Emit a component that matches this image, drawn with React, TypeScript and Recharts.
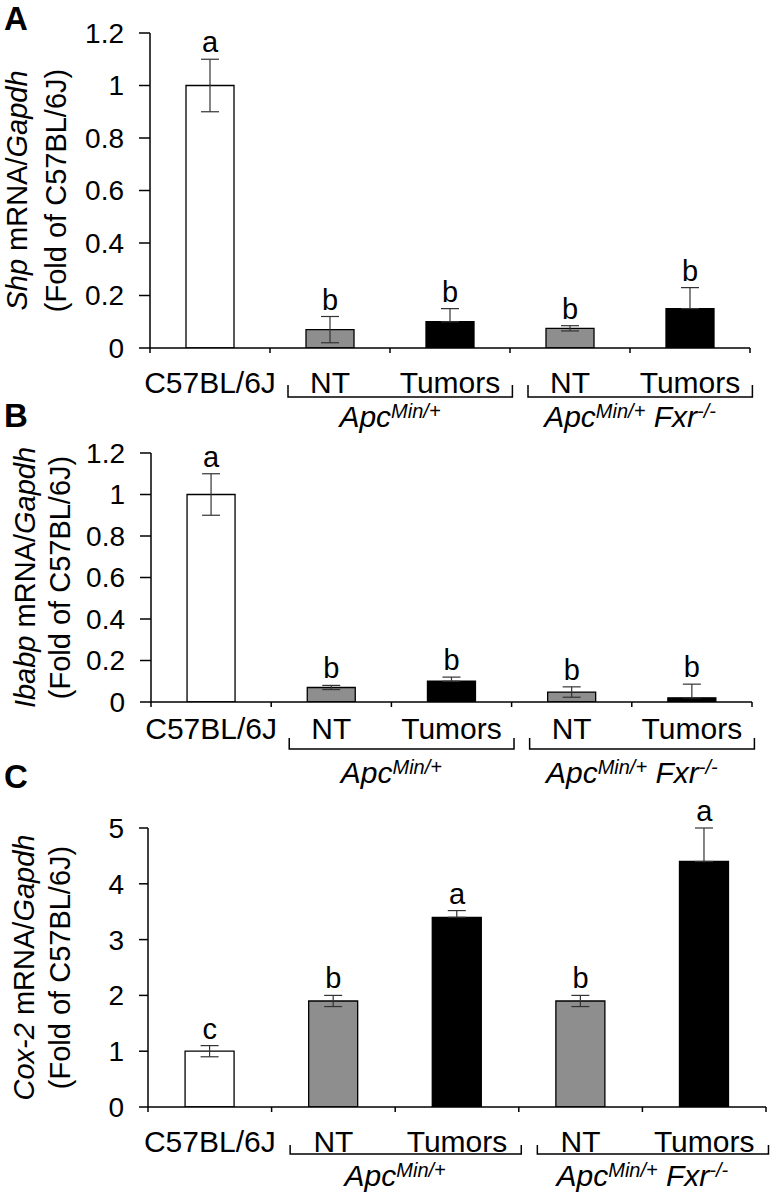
import React from "react";
import { ComposedChart, Bar, Line, XAxis, YAxis, ErrorBar, Cell, LabelList } from "recharts";

const FONT = "'Liberation Sans', Arial, Helvetica, sans-serif";

// Categories (unique ids) and their printed labels
const categoryIds = ["C57BL/6J", "ApcMin NT", "ApcMin Tumors", "ApcMinFxr NT", "ApcMinFxr Tumors"];
const categoryLabels = ["C57BL/6J", "NT", "Tumors", "NT", "Tumors"];
const barFills = ["#ffffff", "#8e8e8e", "#000000", "#8e8e8e", "#000000"];
const groups = [
  { first: 1, last: 2, fxr: false },
  { first: 3, last: 4, fxr: true },
];

// Panel A: Shp
const shpMean = [1.0, 0.07, 0.1, 0.075, 0.15];
const shpErr = [0.1, 0.05, 0.05, 0.01, 0.08];
const shpSig = ["a", "b", "b", "b", "b"];
const shpTicks = [0, 0.2, 0.4, 0.6, 0.8, 1, 1.2];

// Panel B: Ibabp
const ibabpMean = [1.0, 0.07, 0.1, 0.048, 0.02];
const ibabpErr = [0.1, 0.01, 0.02, 0.025, 0.066];
const ibabpSig = ["a", "b", "b", "b", "b"];
const ibabpTicks = [0, 0.2, 0.4, 0.6, 0.8, 1, 1.2];

// Panel C: Cox-2
const coxMean = [1.0, 1.9, 3.4, 1.9, 4.4];
const coxErr = [0.1, 0.1, 0.12, 0.1, 0.6];
const coxSig = ["c", "b", "a", "b", "a"];
const coxTicks = [0, 1, 2, 3, 4, 5];

type Geo = {
  top: number;
  height: number;
  marginTop: number;
  marginRight: number;
  yAxisWidth: number;
  xAxisHeight: number;
  tickSize: number;
  labelDy: number;
  bracketDy: number;
  tipDy: number;
  groupDy: number;
  letterY: number;
  line1X: number;
  line2X: number;
};

const W = 772;

function XTick(props: any) {
  const { x, y, geo } = props;
  const index: number = props.index ?? props.payload?.index ?? 0;
  const n = categoryIds.length;
  const band = (W - geo.marginRight - geo.yAxisWidth) / n;
  const els: any[] = [];
  els.push(
    <line key="t0" x1={x - band / 2} x2={x - band / 2} y1={y} y2={y + 5} stroke="#000" strokeWidth={1.5} />
  );
  if (index === n - 1) {
    els.push(
      <line key="t1" x1={x + band / 2} x2={x + band / 2} y1={y} y2={y + 5} stroke="#000" strokeWidth={1.5} />
    );
  }
  els.push(
    <text key="lab" x={x} y={y + geo.labelDy} textAnchor="middle" fontSize={30} fontFamily={FONT} fill="#000">
      {categoryLabels[index]}
    </text>
  );
  const g = groups.find((gr) => gr.last === index);
  if (g) {
    const span = (g.last - g.first) * band;
    const left = x - span - 0.35 * band;
    const right = x + 0.52 * band;
    const by = y + geo.bracketDy;
    const ty = y + geo.tipDy;
    els.push(
      <path
        key="br"
        d={`M${left},${ty} L${left},${by} L${right},${by} L${right},${ty}`}
        fill="none"
        stroke="#000"
        strokeWidth={1.5}
      />
    );
    const cx = x - span / 2;
    els.push(
      <text
        key="grp"
        x={cx}
        y={y + geo.groupDy}
        textAnchor="middle"
        fontSize={30}
        fontStyle="italic"
        fontFamily={FONT}
        fill="#000"
      >
        <tspan>Apc</tspan>
        <tspan fontSize={20} dy={-9}>Min/+</tspan>
        {g.fxr ? <tspan dy={9}>{"\u00a0Fxr"}</tspan> : null}
        {g.fxr ? <tspan fontSize={20} dy={-9}>-/-</tspan> : null}
      </text>
    );
  }
  return <g>{els}</g>;
}

function YLabel(props: any) {
  const { viewBox, geo, gene, letter } = props;
  const cy = viewBox.y + viewBox.height / 2;
  return (
    <g>
      <text x={4} y={geo.letterY} fontSize={33} fontWeight="bold" fontFamily={FONT} fill="#000">
        {letter}
      </text>
      <text
        x={geo.line1X}
        y={cy}
        transform={`rotate(-90, ${geo.line1X}, ${cy})`}
        textAnchor="middle"
        fontSize={29}
        fontFamily={FONT}
        fill="#000"
      >
        <tspan fontStyle="italic">{gene}</tspan>
        <tspan>{"\u00a0mRNA/"}</tspan>
        <tspan fontStyle="italic">Gapdh</tspan>
      </text>
      <text
        x={geo.line2X}
        y={cy}
        transform={`rotate(-90, ${geo.line2X}, ${cy})`}
        textAnchor="middle"
        fontSize={29}
        fontFamily={FONT}
        fill="#000"
      >
        (Fold of C57BL/6J)
      </text>
    </g>
  );
}

type PanelProps = {
  letter: string;
  gene: string;
  mean: number[];
  err: number[];
  sig: string[];
  ticks: number[];
  geo: Geo;
};

function Panel({ letter, gene, mean, err, sig, ticks, geo }: PanelProps) {
  const data = categoryIds.map((id, i) => ({
    id,
    mean: mean[i],
    // lower whisker is hidden behind the solid black bars in the original
    errRange: barFills[i] === "#000000" ? [0, err[i]] : [err[i], err[i]],
    top: mean[i] + err[i],
    sig: sig[i],
  }));
  const yMax = ticks[ticks.length - 1];
  return (
    <div style={{ position: "absolute", left: 0, top: geo.top, width: W, height: geo.height }}>
      <ComposedChart
        width={W}
        height={geo.height}
        data={data}
        margin={{ top: geo.marginTop, right: geo.marginRight, bottom: 0, left: 0 }}
        barCategoryGap="30%"
      >
        <XAxis
          dataKey="id"
          type="category"
          height={geo.xAxisHeight}
          interval={0}
          tickLine={false}
          tickSize={0}
          tickMargin={0}
          axisLine={{ stroke: "#000", strokeWidth: 1.5 }}
          tick={(p: any) => <XTick {...p} geo={geo} />}
        />
        <YAxis
          type="number"
          domain={[0, yMax]}
          ticks={ticks}
          interval={0}
          allowDataOverflow
          width={geo.yAxisWidth}
          tickSize={geo.tickSize}
          tickMargin={15}
          axisLine={{ stroke: "#000", strokeWidth: 1.5 }}
          tickLine={{ stroke: "#000", strokeWidth: 1.5 }}
          tick={{ fontSize: 28, fill: "#000", fontFamily: FONT }}
          tickFormatter={(v: number) => String(v)}
          label={{ content: (p: any) => <YLabel {...p} geo={geo} gene={gene} letter={letter} /> }}
        />
        <Bar dataKey="mean" stroke="#000" strokeWidth={1.3} isAnimationActive={false}>
          {data.map((d, i) => (
            <Cell key={d.id} fill={barFills[i]} />
          ))}
          <ErrorBar dataKey="errRange" width={9} stroke="#333" strokeWidth={1.2} direction="y" />
        </Bar>
        <Line
          dataKey="top"
          stroke="none"
          dot={false}
          activeDot={false}
          isAnimationActive={false}
          legendType="none"
        >
          <LabelList dataKey="sig" position="top" offset={7} fontSize={29} fill="#000" fontFamily={FONT} />
        </Line>
      </ComposedChart>
    </div>
  );
}

const geoA: Geo = {
  top: 0, height: 440, marginTop: 33, marginRight: 22, yAxisWidth: 150, xAxisHeight: 92, tickSize: 11,
  labelDy: 45, bracketDy: 49, tipDy: 37, groupDy: 79, letterY: 30, line1X: 27, line2X: 66,
};
const geoB: Geo = {
  top: 370, height: 430, marginTop: 83, marginRight: 20, yAxisWidth: 151, xAxisHeight: 98, tickSize: 11,
  labelDy: 37, bracketDy: 47, tipDy: 36, groupDy: 81, letterY: 57, line1X: 35, line2X: 70,
};
const geoC: Geo = {
  top: 748, height: 451, marginTop: 80, marginRight: 6, yAxisWidth: 148, xAxisHeight: 92, tickSize: 9,
  labelDy: 45, bracketDy: 47, tipDy: 38, groupDy: 79, letterY: 40, line1X: 34, line2X: 70,
};

export default function App() {
  return (
    <div style={{ position: "absolute", left: 0, top: 0, width: W, height: 1199, background: "#fff", fontFamily: FONT }}>
      <Panel letter="A" gene="Shp" mean={shpMean} err={shpErr} sig={shpSig} ticks={shpTicks} geo={geoA} />
      <Panel letter="B" gene="Ibabp" mean={ibabpMean} err={ibabpErr} sig={ibabpSig} ticks={ibabpTicks} geo={geoB} />
      <Panel letter="C" gene="Cox-2" mean={coxMean} err={coxErr} sig={coxSig} ticks={coxTicks} geo={geoC} />
    </div>
  );
}
